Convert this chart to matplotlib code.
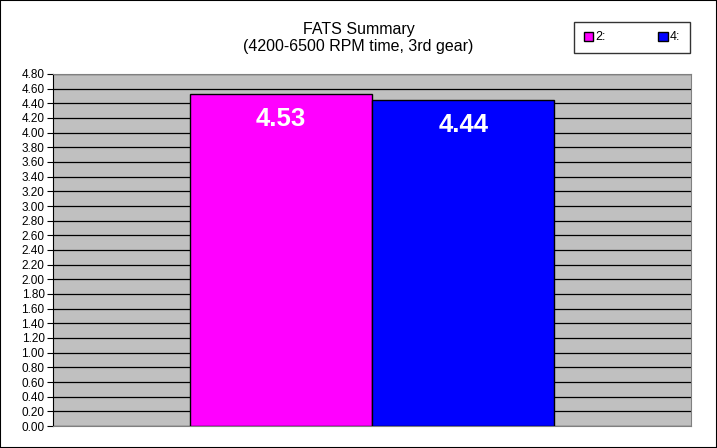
import matplotlib.pyplot as plt
from matplotlib.patches import Rectangle

plt.rcParams['font.family'] = ['Liberation Sans', 'DejaVu Sans']

series = ['2:', '4:']
values = [4.53, 4.44]
colors = ['#FF00FF', '#0000FF']
yticks = [i * 0.2 for i in range(25)]

fig = plt.figure(figsize=(7.17, 4.48), dpi=100)
fig.patches.append(Rectangle((0, 0), 1, 1, transform=fig.transFigure,
                             fill=False, edgecolor='black', linewidth=1.5))
ax = fig.add_axes([53/717, 22/448, 638/717, 352/448])
ax.set_facecolor('#C0C0C0')

bw = 0.2858
offsets = [-bw / 2, bw / 2]
for s, v, c, off in zip(series, values, colors, offsets):
    ax.bar(0.5 + off, v, width=bw, color=c, edgecolor='black', linewidth=1,
           label=s, zorder=3)
    ax.text(0.5 + off, v - 0.34, f'{v:.2f}', ha='center', va='center',
            color='white', fontsize=18.5, fontweight='bold', zorder=4)

ax.set_xlim(0, 1)
ax.set_ylim(0, 4.8)
ax.set_yticks(yticks)
ax.set_yticklabels([f'{t:.2f}' for t in yticks], fontsize=8.5)
ax.set_xticks([])
ax.grid(axis='y', color='black', linewidth=0.9, zorder=1)
ax.set_axisbelow(True)
ax.tick_params(axis='y', length=4, width=0.8, pad=2)
for side in ['top', 'right', 'bottom']:
    ax.spines[side].set_color('#808080')
ax.spines['left'].set_color('black')

fig.text(0.5, 1 - 38/448, 'FATS Summary\n(4200-6500 RPM time, 3rd gear)',
         ha='center', va='center', fontsize=11.5, linespacing=1.1)

leg = fig.legend(loc='center', bbox_to_anchor=(632/717, 1 - 37.5/448), ncol=2,
                 fontsize=9, frameon=True, fancybox=False, edgecolor='black',
                 handlelength=0.75, handleheight=0.75, handletextpad=0.2,
                 columnspacing=4.2, borderpad=0.75)
leg.get_frame().set_linewidth(1)

fig.savefig('out.png', dpi=100)
